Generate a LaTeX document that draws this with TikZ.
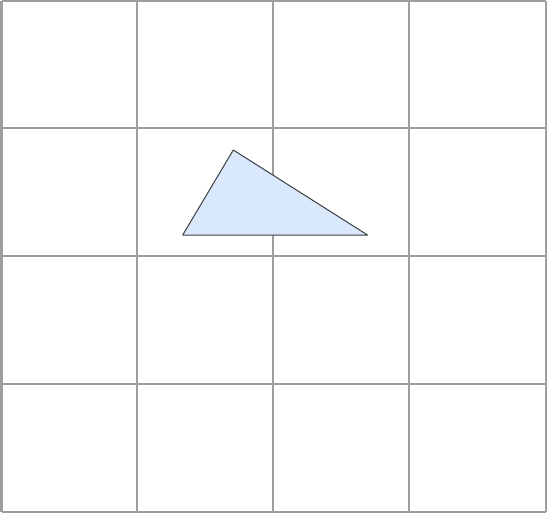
\documentclass[tikz,border=0pt]{standalone}
\begin{document}
\begin{tikzpicture}[x=1bp,y=-1bp,
  gridline/.style={draw=gridgray,line width=2bp},
  tri/.style={draw=trigray,fill=trifill,line width=1bp,line join=round}]
\definecolor{gridgray}{HTML}{9E9E9E}
\definecolor{trifill}{HTML}{DAE8FC}
\definecolor{trigray}{HTML}{3C3F44}
\useasboundingbox (0,0) rectangle (547,513);
\fill[white] (0,0) rectangle (547,513);
\foreach \x in {1.5,137,273,409,545.5}
  \draw[gridline] (\x,1.5) -- (\x,511.5);
\foreach \y in {1.5,128.3,256,384,511.5}
  \draw[gridline] (1.5,\y) -- (545.5,\y);
\coordinate (A) at (233.3,150);
\coordinate (B) at (182.7,235);
\coordinate (C) at (367.5,235);
\draw[tri] (A) -- (B) -- (C) -- cycle;
\end{tikzpicture}
\end{document}
